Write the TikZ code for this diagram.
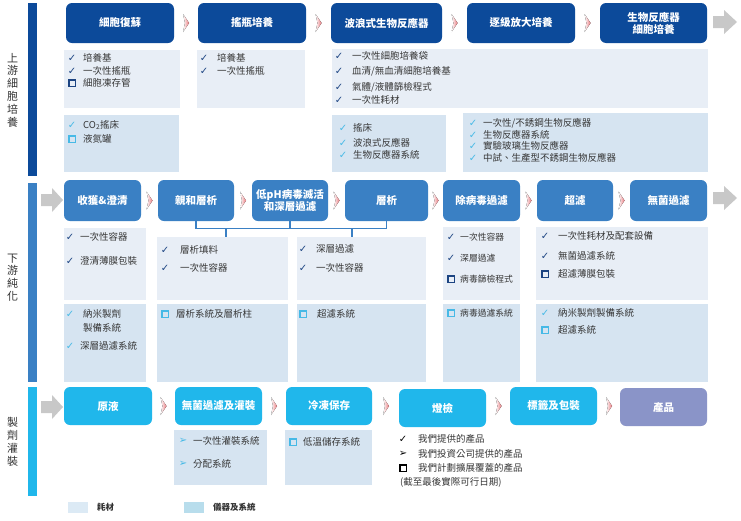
\documentclass[tikz,border=0pt]{standalone}
\usepackage{fontspec}
\setmainfont{Noto Sans CJK TC}
\newfontfamily\sym{DejaVu Sans}
\usetikzlibrary{shadings}
\definecolor{upblue}{RGB}{12,74,154}
\definecolor{dnblue}{RGB}{58,128,196}
\definecolor{ffcyan}{RGB}{32,183,235}
\definecolor{prod}{RGB}{138,148,200}
\definecolor{conlight}{RGB}{232,238,246}
\definecolor{inslight}{RGB}{214,228,241}
\definecolor{mkdark}{RGB}{28,68,130}
\definecolor{mkcyan}{RGB}{70,185,230}
\definecolor{txt}{RGB}{55,55,55}
\definecolor{garrow}{RGB}{200,200,200}
\definecolor{chevc}{RGB}{232,120,125}
\definecolor{swA}{RGB}{220,234,245}
\definecolor{swB}{RGB}{184,221,236}
\newcounter{itmc}
\newcommand\mkcheck[1]{{\sym\fontsize{10}{10}\selectfont\color{#1}✓}}
\newcommand\mkarr[1]{{\sym\fontsize{10}{10}\selectfont\color{#1}➢}}
\newcommand\mksq[1]{{\color{#1}\fboxrule=1.4pt\fboxsep=0pt\fbox{\rule{0pt}{5pt}\hspace{5pt}}}}
\newcommand\itm[6][itemtxt]{%
  \stepcounter{itmc}%
  \node[mk] (m\arabic{itmc}) at (#2,#4) {#5};
  \node[#1, anchor=west] (t\arabic{itmc}) at (#3,#4) {#6};}
\newcommand\stg[7]{\node[stage, fill=#6, minimum width={(#4-#2)*1pt}, minimum height={(#5-#3)*1pt}] (#1) at ({(#2+#4)/2},{(#3+#5)/2}) {#7};}
\newcommand\pnl[6]{\node[panel, fill=#6, minimum width={(#4-#2)*1pt}, minimum height={(#5-#3)*1pt}] (#1) at ({(#2+#4)/2},{(#3+#5)/2}) {};}
\newcommand\chev[2]{\fill[left color=white, right color=chevc] (#1-3,#2-9) -- (#1+3,#2) -- (#1-3,#2+9) -- (#1-1,#2) -- cycle;}
\newcommand\garr[3]{\fill[garrow] (#1,#3-6) -- (#1+11,#3-6) -- (#1+11,#3-12) -- (#2,#3) -- (#1+11,#3+12) -- (#1+11,#3+6) -- (#1,#3+6) -- cycle;}
\tikzset{
  stage/.style={rounded corners=6pt, text=white, font=\bfseries\fontsize{10.5}{12}\selectfont, align=center, inner sep=0pt},
  panel/.style={inner sep=0pt, draw=none},
  mk/.style={inner sep=0pt},
  itemtxt/.style={inner sep=0pt, text=txt, font=\fontsize{9.5}{10}\selectfont},
  smalltxt/.style={inner sep=0pt, text=txt, font=\fontsize{8.8}{10}\selectfont},
  seclabel/.style={inner sep=0pt, align=center, text=black!80, font=\fontsize{11}{12.8}\selectfont},
  bracket/.style={draw=dnblue, line width=1.8pt},
}
\begin{document}
\begin{tikzpicture}[x=1pt,y=-1pt]
\useasboundingbox (0,0) rectangle (741,520);
\fill[white] (0,0) rectangle (741,520);
% section bars and labels
\node[panel, fill=upblue, minimum width=9pt, minimum height=173pt] (barU) at (32.5,89.5) {};
\node[panel, fill=dnblue, minimum width=9pt, minimum height=199pt] (barD) at (32.5,282.5) {};
\node[panel, fill=ffcyan, minimum width=9pt, minimum height=109pt] (barF) at (32.5,441.5) {};
\node[seclabel] (labU) at (12.5,90) {上\\游\\細\\胞\\培\\養};
\node[seclabel] (labD) at (12.5,277.5) {下\\游\\純\\化};
\node[seclabel] (labF) at (12.5,442) {製\\劑\\灌\\裝};
% ---------- upstream ----------
\stg{u1}{66}{3}{174}{43}{upblue}{細胞復蘇}
\stg{u2}{198}{3}{306}{43}{upblue}{搖瓶培養}
\stg{u3}{331}{3}{442}{43}{upblue}{波浪式生物反應器}
\stg{u4}{467}{3}{575}{43}{upblue}{逐級放大培養}
\stg{u5}{600}{3}{707}{43}{upblue}{生物反應器\\細胞培養}
\chev{186}{23}\chev{318.5}{23}\chev{454.5}{23}\chev{587.5}{23}
\garr{713}{737}{22}
\pnl{pu1}{64}{50}{180}{108}{conlight}
\pnl{pu2}{197}{50}{305}{108}{conlight}
\pnl{pu3}{332}{49}{708}{108}{conlight}
\pnl{qu1}{64}{115}{179}{172}{inslight}
\pnl{qu3}{332}{115}{446}{172}{inslight}
\pnl{qu4}{463}{113}{708}{172}{inslight}
\itm{72}{83}{58}{\mkcheck{mkdark}}{培養基}
\itm{72}{83}{71}{\mkcheck{mkdark}}{一次性搖瓶}
\itm{72}{83}{83}{\mksq{mkdark}}{細胞凍存管}
\itm{72}{83}{125}{\mkcheck{mkcyan}}{CO\textsubscript{2}搖床}
\itm{72}{83}{139}{\mksq{mkcyan}}{液氮罐}
\itm{204}{217}{58}{\mkcheck{mkdark}}{培養基}
\itm{204}{217}{71}{\mkcheck{mkdark}}{一次性搖瓶}
\itm{339}{352}{56}{\mkcheck{mkdark}}{一次性細胞培養袋}
\itm{339}{352}{71}{\mkcheck{mkdark}}{血清/無血清細胞培養基}
\itm{339}{352}{87}{\mkcheck{mkdark}}{氣體/液體篩檢程式}
\itm{339}{352}{100}{\mkcheck{mkdark}}{一次性耗材}
\itm{343}{353}{128}{\mkcheck{mkcyan}}{搖床}
\itm{343}{353}{143}{\mkcheck{mkcyan}}{波浪式反應器}
\itm{343}{353}{155}{\mkcheck{mkcyan}}{生物反應器系統}
\itm{473}{483}{123}{\mkcheck{mkcyan}}{一次性/不銹鋼生物反應器}
\itm{473}{483}{135}{\mkcheck{mkcyan}}{生物反應器系統}
\itm{473}{483}{146}{\mkcheck{mkcyan}}{實驗玻璃生物反應器}
\itm{473}{483}{158}{\mkcheck{mkcyan}}{中試、生產型不銹鋼生物反應器}
% ---------- downstream ----------
\stg{d1}{64}{180}{141}{221}{dnblue}{收獲\&澄清}
\stg{d2}{158}{180}{234}{221}{dnblue}{親和層析}
\stg{d3}{252}{180}{328}{221}{dnblue}{低pH病毒滅活\\和深層過濾}
\stg{d4}{345}{180}{428}{221}{dnblue}{層析}
\stg{d5}{443}{180}{520}{221}{dnblue}{除病毒過濾}
\stg{d6}{537}{180}{613}{221}{dnblue}{超濾}
\stg{d7}{630}{180}{707}{221}{dnblue}{無菌過濾}
\chev{149.5}{200.5}\chev{243}{200.5}\chev{336.5}{200.5}\chev{435.5}{200.5}\chev{528.5}{200.5}\chev{621.5}{200.5}
\garr{41}{63}{200}
\garr{713}{737}{198}
\pnl{pd1}{64}{228}{146}{300}{conlight}
\pnl{pd2}{157}{237}{288}{300}{conlight}
\pnl{pd3}{297}{237}{426}{300}{conlight}
\pnl{pd4}{443}{227}{520}{300}{conlight}
\pnl{pd5}{536}{227}{708}{300}{conlight}
\pnl{qd1}{64}{304}{146}{382}{inslight}
\pnl{qd2}{157}{304}{288}{382}{inslight}
\pnl{qd3}{297}{304}{426}{382}{inslight}
\pnl{qd4}{443}{304}{520}{382}{inslight}
\pnl{qd5}{536}{304}{708}{382}{inslight}
% bracket connector
\coordinate (bk) at (0,228.5);
\coordinate (dropL) at (226,228.5);
\coordinate (dropR) at (352,228.5);
\draw[bracket] (d2.south) -- (d2.south |- bk) -- (d4.south |- bk) -- (d4.south);
\draw[bracket] (d3.south) -- (d3.south |- bk);
\draw[bracket] (dropL) -- (dropL |- pd2.north);
\draw[bracket] (dropR) -- (dropR |- pd3.north);
\itm{70}{80}{237}{\mkcheck{mkdark}}{一次性容器}
\itm{70}{80}{261}{\mkcheck{mkdark}}{澄清薄膜包裝}
\itm{70}{83}{314}{\mkcheck{mkcyan}}{納米製劑}
\node[itemtxt, anchor=west] (t1b) at (83,328) {製備系統};
\itm{70}{80}{346}{\mkcheck{mkcyan}}{深層過濾系統}
\itm{165}{180}{250}{\mkcheck{mkdark}}{層析填料}
\itm{165}{180}{268}{\mkcheck{mkdark}}{一次性容器}
\itm{165}{176}{314}{\mksq{mkcyan}}{層析系統及層析柱}
\itm{303}{316}{249}{\mkcheck{mkdark}}{深層過濾}
\itm{303}{316}{268}{\mkcheck{mkdark}}{一次性容器}
\itm{303}{317}{314}{\mksq{mkcyan}}{超濾系統}
\itm[smalltxt]{451}{460}{237}{\mkcheck{mkdark}}{一次性容器}
\itm[smalltxt]{451}{460}{258}{\mkcheck{mkdark}}{深層過濾}
\itm[smalltxt]{451}{460}{279}{\mksq{mkdark}}{病毒篩檢程式}
\itm[smalltxt]{451}{460}{313}{\mksq{mkcyan}}{病毒過濾系統}
\itm{545}{558}{236}{\mkcheck{mkdark}}{一次性耗材及配套設備}
\itm{545}{558}{256}{\mkcheck{mkdark}}{無菌過濾系統}
\itm{545}{558}{274}{\mksq{mkdark}}{超濾薄膜包裝}
\itm{545}{558}{313}{\mkcheck{mkcyan}}{納米製劑製備系統}
\itm{545}{558}{330}{\mksq{mkcyan}}{超濾系統}
% ---------- fill & finish ----------
\stg{f1}{64}{387}{152}{425}{ffcyan}{原液}
\stg{f2}{175}{387}{262}{425}{ffcyan}{無菌過濾及灌裝}
\stg{f3}{286}{387}{372}{425}{ffcyan}{冷凍保存}
\stg{f4}{399}{389}{486}{427}{ffcyan}{燈檢}
\stg{f5}{510}{387}{597}{425}{ffcyan}{標籤及包裝}
\stg{f6}{620}{388}{707}{426}{prod}{產品}
\chev{163.5}{406}\chev{274}{406}\chev{386}{406}\chev{498.5}{406}\chev{609}{406}
\garr{41}{63}{407}
\pnl{pf2}{174}{430}{267}{485}{inslight}
\pnl{pf3}{285}{430}{372}{485}{inslight}
\itm{183}{193}{441}{\mkarr{mkcyan}}{一次性灌裝系統}
\itm{183}{193}{464}{\mkarr{mkcyan}}{分配系統}
\itm{293}{303}{442}{\mksq{mkcyan}}{低溫儲存系統}
% key
\itm{403}{418}{439}{\mkcheck{black}}{我們提供的產品}
\itm{403}{418}{454}{\mkarr{black}}{我們投資公司提供的產品}
\itm{403}{418}{468}{\mksq{black}}{我們計劃擴展覆蓋的產品}
\node[itemtxt, anchor=west] (note) at (400,482) {(截至最後實際可行日期)};
% legend
\pnl{swa}{68}{502}{88}{513}{swA}
\pnl{swb}{184}{502}{204}{513}{swB}
\node[inner sep=0pt, anchor=west, font=\bfseries\fontsize{8.5}{10}\selectfont, text=black!80] (lga) at (97,507.5) {耗材};
\node[inner sep=0pt, anchor=west, font=\bfseries\fontsize{8.5}{10}\selectfont, text=black!80] (lgb) at (213,507.5) {儀器及系統};
\end{tikzpicture}
\end{document}
